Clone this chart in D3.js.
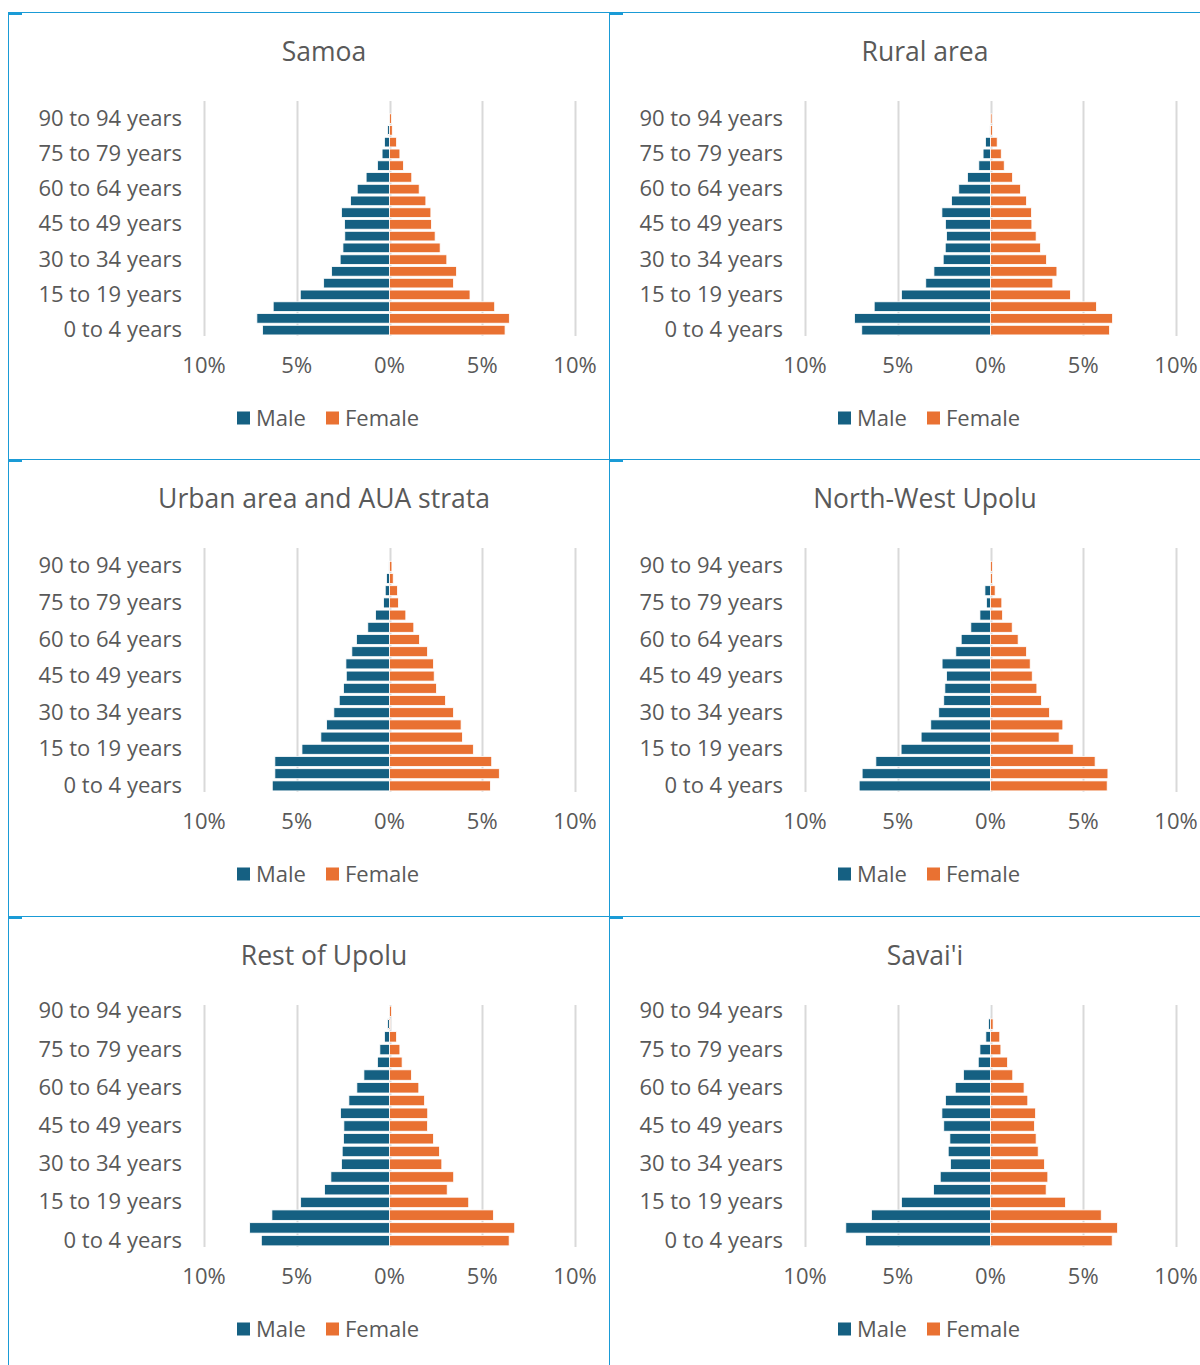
<!DOCTYPE html>
<html>
<head>
<meta charset="utf-8">
<script src="https://cdn.jsdelivr.net/npm/d3@7"></script>
<style>
    body { margin: 0; background: #fff; }
    svg { display: block; }
    text { font-family: "Open Sans", sans-serif; fill: #595959; }
</style>
</head>
<body>
<svg id="chart"></svg>
<script>
// Age pyramids by region (% of population)

const ageGroups = ["0 to 4 years", "5 to 9 years", "10 to 14 years", "15 to 19 years", "20 to 24 years",
    "25 to 29 years", "30 to 34 years", "35 to 39 years", "40 to 44 years", "45 to 49 years",
    "50 to 54 years", "55 to 59 years", "60 to 64 years", "65 to 69 years", "70 to 74 years",
    "75 to 79 years", "80 to 84 years", "85 to 89 years", "90 to 94 years", "95 years and over"]

const tickValues = [-10, -5, 0, 5, 10]
const seriesNames = ["Male", "Female"]
const colors = ["#156082", "#e97132"]

// values listed from "0 to 4 years" upwards
const samoaMale = [6.84, 7.15, 6.27, 4.81, 3.55, 3.12, 2.66, 2.51, 2.41, 2.42, 2.59, 2.1, 1.74, 1.26, 0.65, 0.4, 0.27, 0.1, 0.02, 0]
const samoaFemale = [6.23, 6.46, 5.67, 4.34, 3.45, 3.61, 3.09, 2.73, 2.46, 2.26, 2.23, 1.96, 1.6, 1.2, 0.75, 0.56, 0.38, 0.15, 0.1, 0]

const ruralMale = [6.94, 7.33, 6.27, 4.8, 3.49, 3.05, 2.55, 2.44, 2.37, 2.43, 2.62, 2.1, 1.71, 1.24, 0.63, 0.4, 0.27, 0.03, 0, 0]
const ruralFemale = [6.42, 6.58, 5.71, 4.31, 3.36, 3.58, 3.02, 2.7, 2.46, 2.23, 2.21, 1.94, 1.62, 1.19, 0.74, 0.58, 0.36, 0.1, 0.08, 0]

const urbanMale = [6.32, 6.18, 6.18, 4.72, 3.7, 3.39, 3.0, 2.71, 2.48, 2.33, 2.35, 2.03, 1.78, 1.17, 0.75, 0.32, 0.23, 0.16, 0.03, 0]
const urbanFemale = [5.44, 5.92, 5.51, 4.52, 3.93, 3.86, 3.45, 3.02, 2.53, 2.41, 2.37, 2.05, 1.62, 1.31, 0.88, 0.48, 0.43, 0.2, 0.13, 0]

const nwUpoluMale = [7.08, 6.92, 6.18, 4.82, 3.74, 3.22, 2.79, 2.52, 2.46, 2.37, 2.61, 1.87, 1.58, 1.06, 0.57, 0.22, 0.3, 0.02, 0, 0]
const nwUpoluFemale = [6.29, 6.33, 5.64, 4.46, 3.7, 3.9, 3.18, 2.75, 2.5, 2.25, 2.14, 1.94, 1.49, 1.17, 0.65, 0.61, 0.25, 0.1, 0.1, 0]

const restUpoluMale = [6.91, 7.54, 6.34, 4.79, 3.5, 3.16, 2.59, 2.55, 2.48, 2.46, 2.64, 2.19, 1.76, 1.38, 0.65, 0.52, 0.27, 0.1, 0]
const restUpoluFemale = [6.45, 6.75, 5.6, 4.27, 3.11, 3.46, 2.82, 2.69, 2.37, 2.05, 2.06, 1.89, 1.58, 1.18, 0.68, 0.56, 0.38, 0.04, 0.11]

const savaiiMale = [6.74, 7.8, 6.42, 4.8, 3.07, 2.71, 2.16, 2.28, 2.19, 2.52, 2.62, 2.43, 1.9, 1.46, 0.66, 0.57, 0.25, 0.11, 0.02]
const savaiiFemale = [6.56, 6.85, 5.97, 4.04, 3.0, 3.09, 2.91, 2.57, 2.46, 2.37, 2.43, 2.01, 1.81, 1.2, 0.92, 0.56, 0.5, 0.14, 0]

const panels = [
    { title: "Samoa", male: samoaMale, female: samoaFemale, x: 8, y: 12, h: 447, plotH: 235 },
    { title: "Rural area", male: ruralMale, female: ruralFemale, x: 609, y: 12, h: 447, plotH: 235 },
    { title: "Urban area and AUA strata", male: urbanMale, female: urbanFemale, x: 8, y: 459, h: 457, plotH: 244 },
    { title: "North-West Upolu", male: nwUpoluMale, female: nwUpoluFemale, x: 609, y: 459, h: 457, plotH: 244 },
    { title: "Rest of Upolu", male: restUpoluMale, female: restUpoluFemale, x: 8, y: 916, h: 460, plotH: 242 },
    { title: "Savai'i", male: savaiiMale, female: savaiiFemale, x: 609, y: 916, h: 460, plotH: 242 }
]

const width = 1200
const height = 1365
const panelW = 601
const plotLeft = 196
const plotRight = 567
const plotTop = 89
const borderColor = "#1a9bd6"

const svg = d3.select("#chart")
    .attr("width", width)
    .attr("height", height)

panels.forEach(p => {
    const g = svg.append("g")
        .attr("transform", `translate(${p.x},${p.y})`)

    const groups = ageGroups.slice(0, p.male.length)
    const rows = groups.map((a, i) => ({ age: a, male: p.male[i], female: p.female[i] }))

    const x = d3.scaleLinear()
        .domain([-10, 10])
        .range([plotLeft, plotRight])

    const y = d3.scaleBand()
        .domain(groups.slice().reverse())
        .range([plotTop, plotTop + p.plotH])
        .paddingInner(0.18)
        .paddingOuter(0.09)

    // title
    g.append("text")
        .attr("x", 316)
        .attr("y", 39)
        .attr("text-anchor", "middle")
        .attr("dominant-baseline", "central")
        .style("font-size", "26.5px")
        .text(p.title)

    // vertical gridlines
    g.selectAll(".grid")
        .data(tickValues)
        .enter()
        .append("line")
        .attr("x1", d => Math.round(x(d)) + 0.5)
        .attr("x2", d => Math.round(x(d)) + 0.5)
        .attr("y1", plotTop)
        .attr("y2", plotTop + p.plotH)
        .attr("stroke", "#d9d9d9")
        .attr("stroke-width", 2)

    // bars
    g.selectAll(".male")
        .data(rows)
        .enter()
        .append("rect")
        .attr("x", d => x(-d.male))
        .attr("y", d => y(d.age))
        .attr("width", d => x(0) - x(-d.male))
        .attr("height", y.bandwidth())
        .attr("fill", colors[0])
        .attr("stroke", "#fff")
        .attr("stroke-width", 0.8)

    g.selectAll(".female")
        .data(rows)
        .enter()
        .append("rect")
        .attr("x", x(0))
        .attr("y", d => y(d.age))
        .attr("width", d => x(d.female) - x(0))
        .attr("height", y.bandwidth())
        .attr("fill", colors[1])
        .attr("stroke", "#fff")
        .attr("stroke-width", 0.8)

    // category labels, every third group
    g.selectAll(".cat")
        .data(groups.filter((d, i) => i % 3 == 0))
        .enter()
        .append("text")
        .attr("x", plotLeft - 22)
        .attr("y", d => y(d) + y.bandwidth() / 2 - 2)
        .attr("text-anchor", "end")
        .attr("dominant-baseline", "central")
        .style("font-size", "22px")
        .text(d => d)

    // value axis labels
    const tickY = plotTop + p.plotH + 28
    g.selectAll(".tick")
        .data(tickValues)
        .enter()
        .append("text")
        .attr("x", d => x(d))
        .attr("y", tickY)
        .attr("text-anchor", "middle")
        .attr("dominant-baseline", "central")
        .style("font-size", "22px")
        .text(d => Math.abs(d) + "%")

    // legend
    const legend = g.append("g")
        .attr("transform", `translate(229,${tickY + 53})`)

    const lx = [0, 89]
    seriesNames.forEach((s, i) => {
        legend.append("rect")
            .attr("x", lx[i])
            .attr("y", -5.5)
            .attr("width", 13)
            .attr("height", 13)
            .attr("fill", colors[i])
        legend.append("text")
            .attr("x", lx[i] + 19)
            .attr("y", 0)
            .attr("dominant-baseline", "central")
            .style("font-size", "22px")
            .text(s)
    })

    // chart border
    g.append("rect")
        .attr("x", 0.5)
        .attr("y", 0.5)
        .attr("width", panelW)
        .attr("height", p.h)
        .attr("fill", "none")
        .attr("stroke", borderColor)
        .attr("stroke-width", 1)

    g.append("rect")
        .attr("x", 0)
        .attr("y", 0)
        .attr("width", 14)
        .attr("height", 3)
        .attr("fill", borderColor)
})
</script>
</body>
</html>
